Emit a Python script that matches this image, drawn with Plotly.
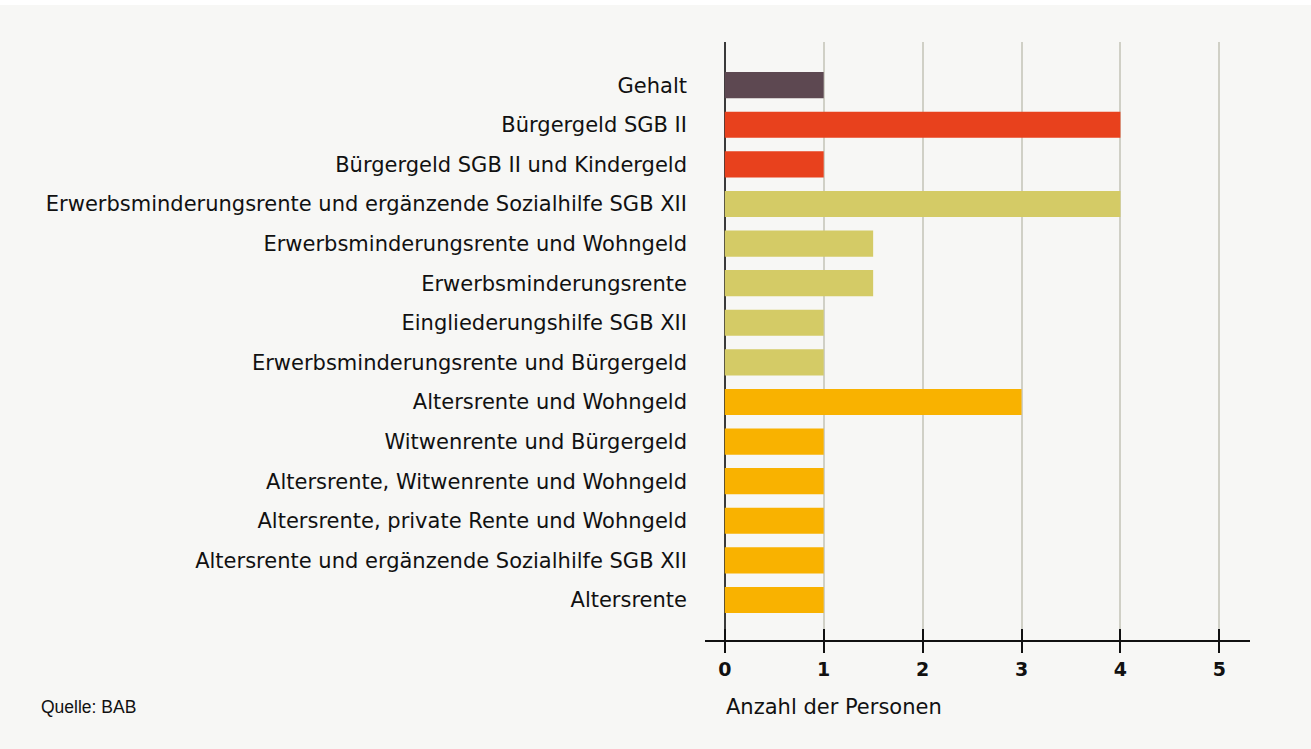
import plotly.graph_objects as go

categories = [
    "Gehalt",
    "Bürgergeld SGB II",
    "Bürgergeld SGB II und Kindergeld",
    "Erwerbsminderungsrente und ergänzende Sozialhilfe SGB XII",
    "Erwerbsminderungsrente und Wohngeld",
    "Erwerbsminderungsrente",
    "Eingliederungshilfe SGB XII",
    "Erwerbsminderungsrente und Bürgergeld",
    "Altersrente und Wohngeld",
    "Witwenrente und Bürgergeld",
    "Altersrente, Witwenrente und Wohngeld",
    "Altersrente, private Rente und Wohngeld",
    "Altersrente und ergänzende Sozialhilfe SGB XII",
    "Altersrente",
]
values = [1, 4, 1, 4, 1.5, 1.5, 1, 1, 3, 1, 1, 1, 1, 1]
groups = ["gehalt", "buerger", "buerger", "emr", "emr", "emr", "emr", "emr",
          "alter", "alter", "alter", "alter", "alter", "alter"]
group_colors = {"gehalt": "#5d4851", "buerger": "#e8411d", "emr": "#d4cb66", "alter": "#f9b200"}
x_ticks = [0, 1, 2, 3, 4, 5]

FONT = "DejaVu Sans"
W, H = 1311, 749
L, R, T, B = 705, 61, 42, 109
PW, PH = W - L - R, H - T - B

cats_rev = categories[::-1]
vals_rev = values[::-1]
cols_rev = [group_colors[g] for g in groups[::-1]]

fig = go.Figure()
fig.add_trace(go.Bar(
    y=cats_rev, x=vals_rev, orientation="h",
    marker=dict(color=cols_rev, line=dict(width=0)),
    width=0.66, hoverinfo="x+y", showlegend=False,
))
# helper invisible trace for the second x axis (upper tick halves)
fig.add_trace(go.Scatter(x=[0], y=[cats_rev[0]], xaxis="x2", mode="markers",
                         marker=dict(opacity=0), hoverinfo="skip", showlegend=False))

fig.update_layout(
    width=W, height=H,
    margin=dict(l=L, r=R, t=T, b=B, pad=0),
    paper_bgcolor="#f7f7f5",
    plot_bgcolor="#f7f7f5",
    font=dict(family=FONT, color="#111111"),
    xaxis=dict(
        range=[-0.2, 5.31],
        tickvals=x_ticks,
        ticktext=[str(v) for v in x_ticks],
        showgrid=True, gridcolor="#d0d0c6", gridwidth=1.5,
        zeroline=True, zerolinecolor="#3a3a3a", zerolinewidth=2,
        showline=True, linecolor="#111111", linewidth=1.5,
        ticks="outside", ticklen=11, tickwidth=1.5, tickcolor="#111111",
        tickfont=dict(family=FONT, size=19, weight=700, color="#111111"),
        ticklabelstandoff=0,
        fixedrange=True,
    ),
    xaxis2=dict(
        overlaying="x", side="bottom", anchor="y", matches="x",
        range=[-0.2, 5.31], tickvals=x_ticks,
        showticklabels=False, showgrid=False, zeroline=False, showline=False,
        ticks="inside", ticklen=11, tickwidth=1.5, tickcolor="#111111",
    ),
    yaxis=dict(
        categoryorder="array", categoryarray=cats_rev,
        range=[-1.01, 14.09],
        showgrid=False, zeroline=False, showline=False,
        ticks="", ticklabelstandoff=17,
        tickfont=dict(family=FONT, size=21, color="#111111"),
        fixedrange=True,
    ),
    shapes=[dict(type="rect", xref="paper", yref="paper",
                 x0=-L / PW, x1=1 + R / PW, y0=1 + (T - 5) / PH, y1=1 + T / PH + 0.01,
                 fillcolor="#ffffff", line=dict(width=0), layer="below")],
    annotations=[
        dict(text="Quelle: BAB", xref="paper", yref="paper",
             x=(39 - L) / PW, y=-(707 - T - PH) / PH, xanchor="left", yanchor="middle",
             showarrow=False, font=dict(family="Liberation Sans", size=17.5, color="#111111")),
        dict(text="Anzahl der Personen", xref="paper", yref="paper",
             x=(724 - L) / PW, y=-(707 - T - PH) / PH, xanchor="left", yanchor="middle",
             showarrow=False, font=dict(family=FONT, size=21, color="#111111")),
    ],
)

fig.write_html("out.html", config={"displayModeBar": False},
               post_script="document.body.style.margin='0';")
